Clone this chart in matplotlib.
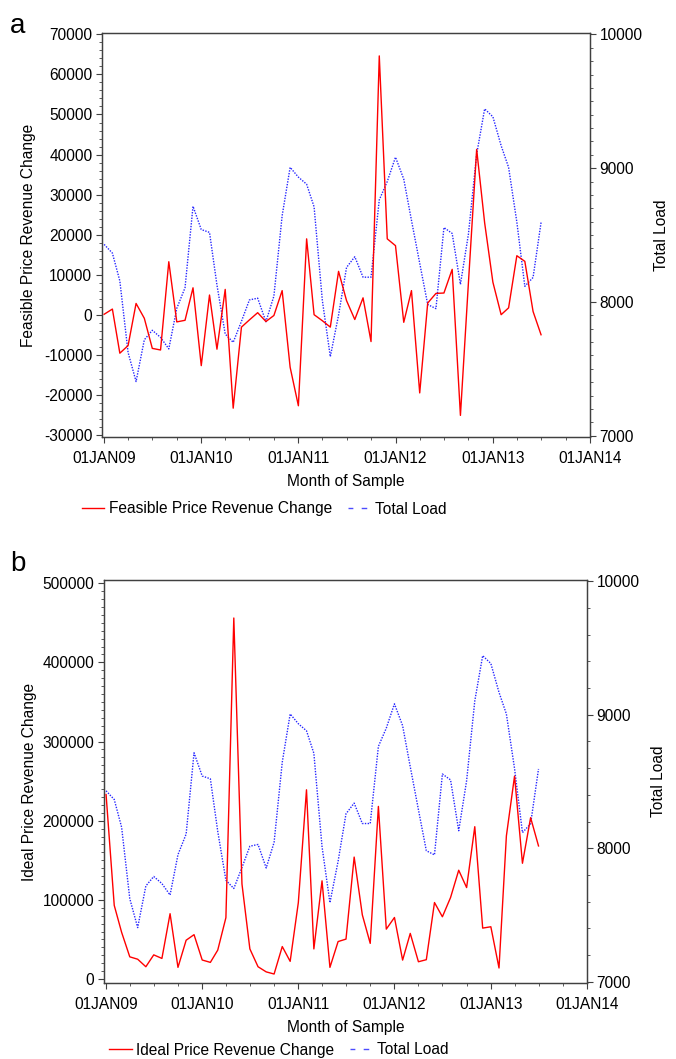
import datetime as dt
import matplotlib
matplotlib.use("Agg")
import matplotlib.pyplot as plt
import matplotlib.dates as mdates
from matplotlib.ticker import MultipleLocator, FuncFormatter
from matplotlib.lines import Line2D

plt.rcParams['font.family'] = ['Liberation Sans', 'DejaVu Sans']
plt.rcParams['axes.unicode_minus'] = False

# Monthly sample Jan 2009 .. Jul 2013
months = [dt.date(2009 + (i // 12), i % 12 + 1, 1) for i in range(55)]

feasible_change = [200, 1500, -9500, -7600, 2900, -800, -8300, -8700, 13300, -1700,
                   -1300, 6800, -12600, 5000, -8500, 6400, -23200, -3000, -1200, 600,
                   -1600, -100, 6100, -13000, -22600, 19000, 100, -1400, -3000, 10900,
                   3600, -1100, 4300, -6600, 64600, 19000, 17300, -1800, 6100, -19400,
                   3000, 5400, 5500, 11400, -25000, 8000, 41300, 23000, 8200, 100,
                   1800, 14800, 13400, 900, -4900]

ideal_change = [233000, 93000, 59000, 28000, 25000, 15500, 30500, 26000, 82500, 14700,
                49000, 56000, 24000, 21000, 36500, 77500, 456000, 120000, 38000, 15500,
                9000, 6300, 41000, 22300, 96500, 239000, 38000, 124000, 14700, 47300,
                50400, 154000, 81000, 45000, 218000, 63000, 77700, 23900, 57600, 21800,
                24400, 96600, 78600, 102900, 137400, 115500, 192400, 64300, 66000, 13900,
                180700, 256300, 146200, 203800, 168100]

total_load = [8430, 8365, 8157, 7622, 7405, 7717, 7788, 7735, 7649, 7952,
              8106, 8715, 8541, 8520, 8126, 7760, 7698, 7855, 8015, 8028,
              7852, 8044, 8645, 9006, 8933, 8880, 8711, 8012, 7591, 7902,
              8258, 8338, 8185, 8185, 8763, 8900, 9082, 8918, 8610, 8289,
              7981, 7950, 8556, 8512, 8131, 8506, 9104, 9443, 9384, 9168,
              9006, 8597, 8117, 8183, 8594]

year_ticks = [dt.date(y, 1, 1) for y in range(2009, 2015)]
RED = '#ff0000'
BLUE = '#0000ff'
FS = 11.2


def fmt_date(x, pos=None):
    d = mdates.num2date(x)
    return d.strftime('%d%b%y').upper()


def style(ax, ax2, right_minor):
    for a in (ax, ax2):
        for s in a.spines.values():
            s.set_color('#404040')
            s.set_linewidth(0.9)
        a.tick_params(which='both', color='#404040', labelsize=FS, direction='out')
        a.tick_params(which='major', length=4)
        a.tick_params(which='minor', length=2.5)
    ax.set_xticks(year_ticks)
    ax.xaxis.set_major_formatter(FuncFormatter(fmt_date))
    ax.xaxis.set_minor_locator(mdates.MonthLocator(bymonth=[4, 7, 10]))
    ax.set_xlim(dt.date(2008, 12, 24), dt.date(2014, 1, 1))
    ax.tick_params(axis='x', pad=6)
    ax.tick_params(axis='y', pad=3)
    ax2.tick_params(axis='y', pad=3)
    ax.set_xlabel('Month of Sample', fontsize=FS, labelpad=6)
    ax2.set_ylim(6990, 10010)
    ax2.set_yticks([7000, 8000, 9000, 10000])
    ax2.yaxis.set_minor_locator(MultipleLocator(right_minor))
    ax2.set_ylabel('Total Load', fontsize=FS, labelpad=8)


fig = plt.figure(figsize=(6.76, 10.59), dpi=100)

# Panel a
axa = fig.add_axes([0.1509, 0.5873, 0.7219, 0.3815])
axa2 = axa.twinx()
axa.plot(months, feasible_change, color=RED, lw=1.0, zorder=3)
axa2.plot(months, total_load, color=BLUE, lw=1.0, ls=(0, (1, 1)), alpha=0.85)
axa.set_zorder(axa2.get_zorder() + 1)
axa.patch.set_visible(False)
axa.set_ylim(-30400, 70300)
axa.set_yticks(range(-30000, 70001, 10000))
axa.yaxis.set_minor_locator(MultipleLocator(2000))
axa.set_ylabel('Feasible Price Revenue Change', fontsize=FS, labelpad=6)
style(axa, axa2, 100)

# Panel b
axb = fig.add_axes([0.1538, 0.0718, 0.7145, 0.3805])
axb2 = axb.twinx()
axb.plot(months, ideal_change, color=RED, lw=1.0, zorder=3)
axb2.plot(months, total_load, color=BLUE, lw=1.0, ls=(0, (1, 1)), alpha=0.85)
axb.set_zorder(axb2.get_zorder() + 1)
axb.patch.set_visible(False)
axb.set_ylim(-5000, 504000)
axb.set_yticks(range(0, 500001, 100000))
axb.yaxis.set_minor_locator(MultipleLocator(10000))
axb.set_ylabel('Ideal Price Revenue Change', fontsize=FS, labelpad=4)
style(axb, axb2, 200)

# Panel letters
fig.text(0.015, 0.975, 'a', fontsize=20, va='center', ha='left')
fig.text(0.015, 0.467, 'b', fontsize=20, va='center', ha='left')

# Legends
def legend_for(label, y, x):
    h1 = Line2D([], [], color=RED, lw=1.0)
    h2 = Line2D([], [], color=BLUE, lw=1.0, ls=(0.5, (4, 6)), alpha=0.7)
    fig.legend([h1, h2], [label, 'Total Load'], loc='center left',
               bbox_to_anchor=(x, y), ncol=2, frameon=False, fontsize=FS,
               handlelength=1.45, handletextpad=0.3, columnspacing=1.0,
               borderaxespad=0)

legend_for('Feasible Price Revenue Change', 1 - 509 / 1059, 0.112)
legend_for('Ideal Price Revenue Change', 1 - 1050 / 1059, 0.152)

fig.savefig('out.png', dpi=100)
